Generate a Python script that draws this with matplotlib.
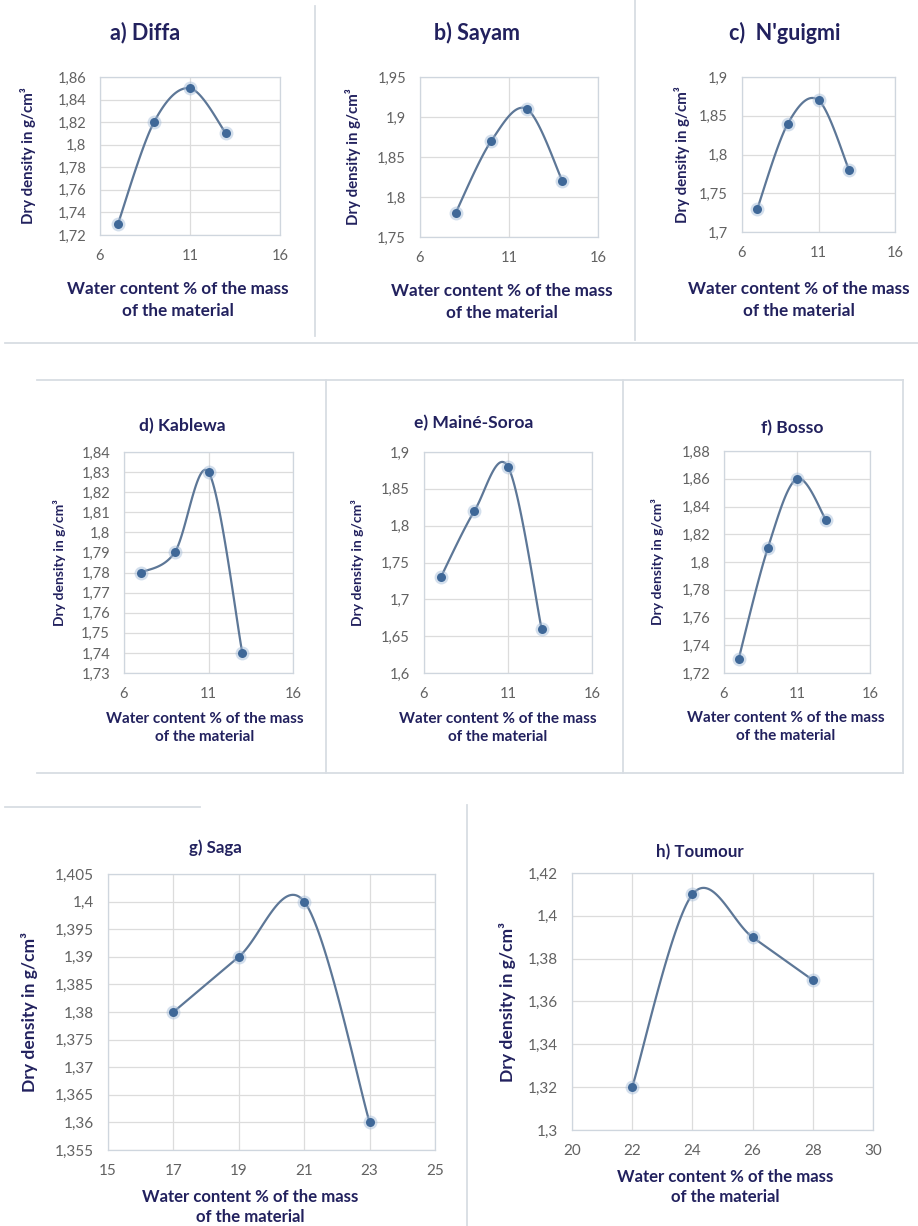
import numpy as np
import matplotlib
matplotlib.use("Agg")
import matplotlib.pyplot as plt
from matplotlib.lines import Line2D
from matplotlib.ticker import FixedLocator, FuncFormatter

W, H = 918, 1226

# Proctor test results: water content (%) vs dry density (g/cm3)
DIFFA_W = [7, 9, 11, 13]
DIFFA_RHO = [1.73, 1.82, 1.85, 1.81]
SAYAM_W = [8, 10, 12, 14]
SAYAM_RHO = [1.78, 1.87, 1.91, 1.82]
NGUIGMI_W = [7, 9, 11, 13]
NGUIGMI_RHO = [1.73, 1.84, 1.87, 1.78]
KABLEWA_W = [7, 9, 11, 13]
KABLEWA_RHO = [1.78, 1.79, 1.83, 1.74]
MAINE_W = [7, 9, 11, 13]
MAINE_RHO = [1.73, 1.82, 1.88, 1.66]
BOSSO_W = [7, 9, 11, 13]
BOSSO_RHO = [1.73, 1.81, 1.86, 1.83]
SAGA_W = [17, 19, 21, 23]
SAGA_RHO = [1.38, 1.39, 1.40, 1.36]
TOUMOUR_W = [22, 24, 26, 28]
TOUMOUR_RHO = [1.32, 1.41, 1.39, 1.37]

TITLES = ["a) Diffa", "b) Sayam", "c)  N'guigmi", "d) Kablewa",
          "e) Mainé-Soroa", "f) Bosso", "g) Saga", "h) Toumour"]

XTICKS_SMALL = [6, 11, 16]
XTICKS_SAGA = [15, 17, 19, 21, 23, 25]
XTICKS_TOUMOUR = [20, 22, 24, 26, 28, 30]
YTICKS_DIFFA = [1.72, 1.74, 1.76, 1.78, 1.80, 1.82, 1.84, 1.86]
YTICKS_SAYAM = [1.75, 1.80, 1.85, 1.90, 1.95]
YTICKS_NGUIGMI = [1.70, 1.75, 1.80, 1.85, 1.90]
YTICKS_KABLEWA = [1.73, 1.74, 1.75, 1.76, 1.77, 1.78, 1.79, 1.80,
                  1.81, 1.82, 1.83, 1.84]
YTICKS_MAINE = [1.60, 1.65, 1.70, 1.75, 1.80, 1.85, 1.90]
YTICKS_BOSSO = [1.72, 1.74, 1.76, 1.78, 1.80, 1.82, 1.84, 1.86, 1.88]
YTICKS_SAGA = [1.355, 1.36, 1.365, 1.37, 1.375, 1.38, 1.385, 1.39,
               1.395, 1.40, 1.405]
YTICKS_TOUMOUR = [1.30, 1.32, 1.34, 1.36, 1.38, 1.40, 1.42]

NAVY = "#22215e"
TICK_GRAY = "#626262"
GRID = "#dcdcdc"
LINE = "#5d7797"
MARK = "#3f6898"
SEP = "#d8dde3"

plt.rcParams["font.family"] = ["Lato", "DejaVu Sans"]


def fx(x):
    return x / W


def fy(y):
    return 1 - y / H


def comma(v, pos=None):
    return ("%g" % round(v, 4)).replace(".", ",")


def excel_smooth(ax, xs, ys, n=40):
    """Bezier smoothing in screen space, like a spreadsheet 'smoothed line'."""
    pts = ax.transData.transform(np.column_stack([xs, ys]))
    P = np.vstack([pts[0], pts, pts[-1]])
    t = np.linspace(0, 1, n)[:, None]
    segs = []
    for i in range(1, len(P) - 2):
        p0, p1, p2, p3 = P[i - 1], P[i], P[i + 1], P[i + 2]
        c1 = p1 + (p2 - p0) / 6
        c2 = p2 - (p3 - p1) / 6
        seg = ((1 - t) ** 3 * p1 + 3 * (1 - t) ** 2 * t * c1
               + 3 * (1 - t) * t ** 2 * c2 + t ** 3 * p2)
        segs.append(seg if i == 1 else seg[1:])
    return ax.transData.inverted().transform(np.vstack(segs))


def panel(fig, box, xs, ys, xticks, yticks, title, title_xy, ylab_x,
          xlab_xy, sizes, xls=1.5):
    tfs, lfs, yfs, kfs = sizes
    left, top, right, bottom = box
    ax = fig.add_axes([fx(left), fy(bottom), fx(right) - fx(left),
                       fy(top) - fy(bottom)])
    ax.set_xlim(xticks[0], xticks[-1])
    ax.set_ylim(yticks[0], yticks[-1])
    ax.xaxis.set_major_locator(FixedLocator(xticks))
    ax.yaxis.set_major_locator(FixedLocator(yticks))
    ax.xaxis.set_major_formatter(FuncFormatter(comma))
    ax.yaxis.set_major_formatter(FuncFormatter(comma))
    ax.tick_params(length=0, labelsize=kfs, labelcolor=TICK_GRAY, pad=10)
    ax.grid(True, color=GRID, lw=0.9)
    ax.set_axisbelow(True)
    for s in ax.spines.values():
        s.set_color("#cfd6de")
        s.set_linewidth(0.9)

    cx, cy = excel_smooth(ax, xs, ys).T
    ax.plot(cx, cy, color=LINE, lw=1.6, solid_capstyle="round", zorder=3)
    ax.plot(xs, ys, "o", ms=10, color="#9fb8d6", alpha=0.45, mec="none",
            zorder=4)
    ax.plot(xs, ys, "o", ms=6.5, color=MARK, mec="none", zorder=5)

    fig.text(fx(title_xy[0]), fy(title_xy[1]), title, ha="center",
             va="center", fontsize=tfs, fontweight="bold", color=NAVY)
    fig.text(fx(ylab_x), fy((top + bottom) / 2), "Dry density in g/cm³",
             rotation=90, ha="center", va="center", fontsize=yfs,
             fontweight="bold", color=NAVY)
    fig.text(fx(xlab_xy[0]), fy(xlab_xy[1]),
             "Water content % of the mass\nof the material", ha="center",
             va="center", multialignment="center", fontsize=lfs,
             fontweight="bold", color=NAVY, linespacing=xls)
    return ax


fig = plt.figure(figsize=(W / 100, H / 100), dpi=100)
fig.patch.set_facecolor("white")

ROW1 = (15.5, 12.3, 10.8, 10.5)
ROW2 = (12.6, 11, 10, 10.5)
ROW3 = (12.2, 12.1, 12.6, 11)

# row 1
panel(fig, (100, 77, 280, 235), DIFFA_W, DIFFA_RHO, XTICKS_SMALL,
      YTICKS_DIFFA, TITLES[0], (145, 33), 28, (178, 300), ROW1)
panel(fig, (420, 77, 598, 237), SAYAM_W, SAYAM_RHO, XTICKS_SMALL,
      YTICKS_SAYAM, TITLES[1], (477, 33), 353, (502, 302), ROW1)
panel(fig, (742, 77, 895, 232), NGUIGMI_W, NGUIGMI_RHO, XTICKS_SMALL,
      YTICKS_NGUIGMI, TITLES[2], (785, 33), 682, (799, 300), ROW1)

# row 2
panel(fig, (124, 452, 293, 673), KABLEWA_W, KABLEWA_RHO, XTICKS_SMALL,
      YTICKS_KABLEWA, TITLES[3], (182, 426), 60, (205, 728), ROW2, 1.45)
panel(fig, (424, 452, 592, 673), MAINE_W, MAINE_RHO, XTICKS_SMALL,
      YTICKS_MAINE, TITLES[4], (474, 423), 357, (498, 728), ROW2, 1.45)
panel(fig, (724, 451, 870, 673), BOSSO_W, BOSSO_RHO, XTICKS_SMALL,
      YTICKS_BOSSO, TITLES[5], (792, 428), 658, (786, 727), ROW2, 1.45)

# row 3
panel(fig, (108, 874, 435, 1150), SAGA_W, SAGA_RHO, XTICKS_SAGA,
      YTICKS_SAGA, TITLES[6], (215, 848), 30, (250, 1207), ROW3, 1.3)
panel(fig, (572, 873, 873, 1130), TOUMOUR_W, TOUMOUR_RHO, XTICKS_TOUMOUR,
      YTICKS_TOUMOUR, TITLES[7], (700, 852), 507, (725, 1187), ROW3, 1.3)

# panel separators
seps = [
    ((315, 315), (6, 336)), ((635, 635), (0, 340)), ((5, 918), (343, 343)),
    ((37, 903), (380, 380)), ((37, 903), (773, 773)),
    ((326, 326), (380, 773)), ((623, 623), (380, 773)),
    ((903, 903), (380, 773)),
    ((467, 467), (805, 1226)), ((5, 200), (807, 807)),
]
for (x0, x1), (y0, y1) in seps:
    fig.add_artist(Line2D([fx(x0), fx(x1)], [fy(y0), fy(y1)], color=SEP,
                          lw=1.3, transform=fig.transFigure))

fig.savefig("out.png", dpi=100, facecolor="white")
